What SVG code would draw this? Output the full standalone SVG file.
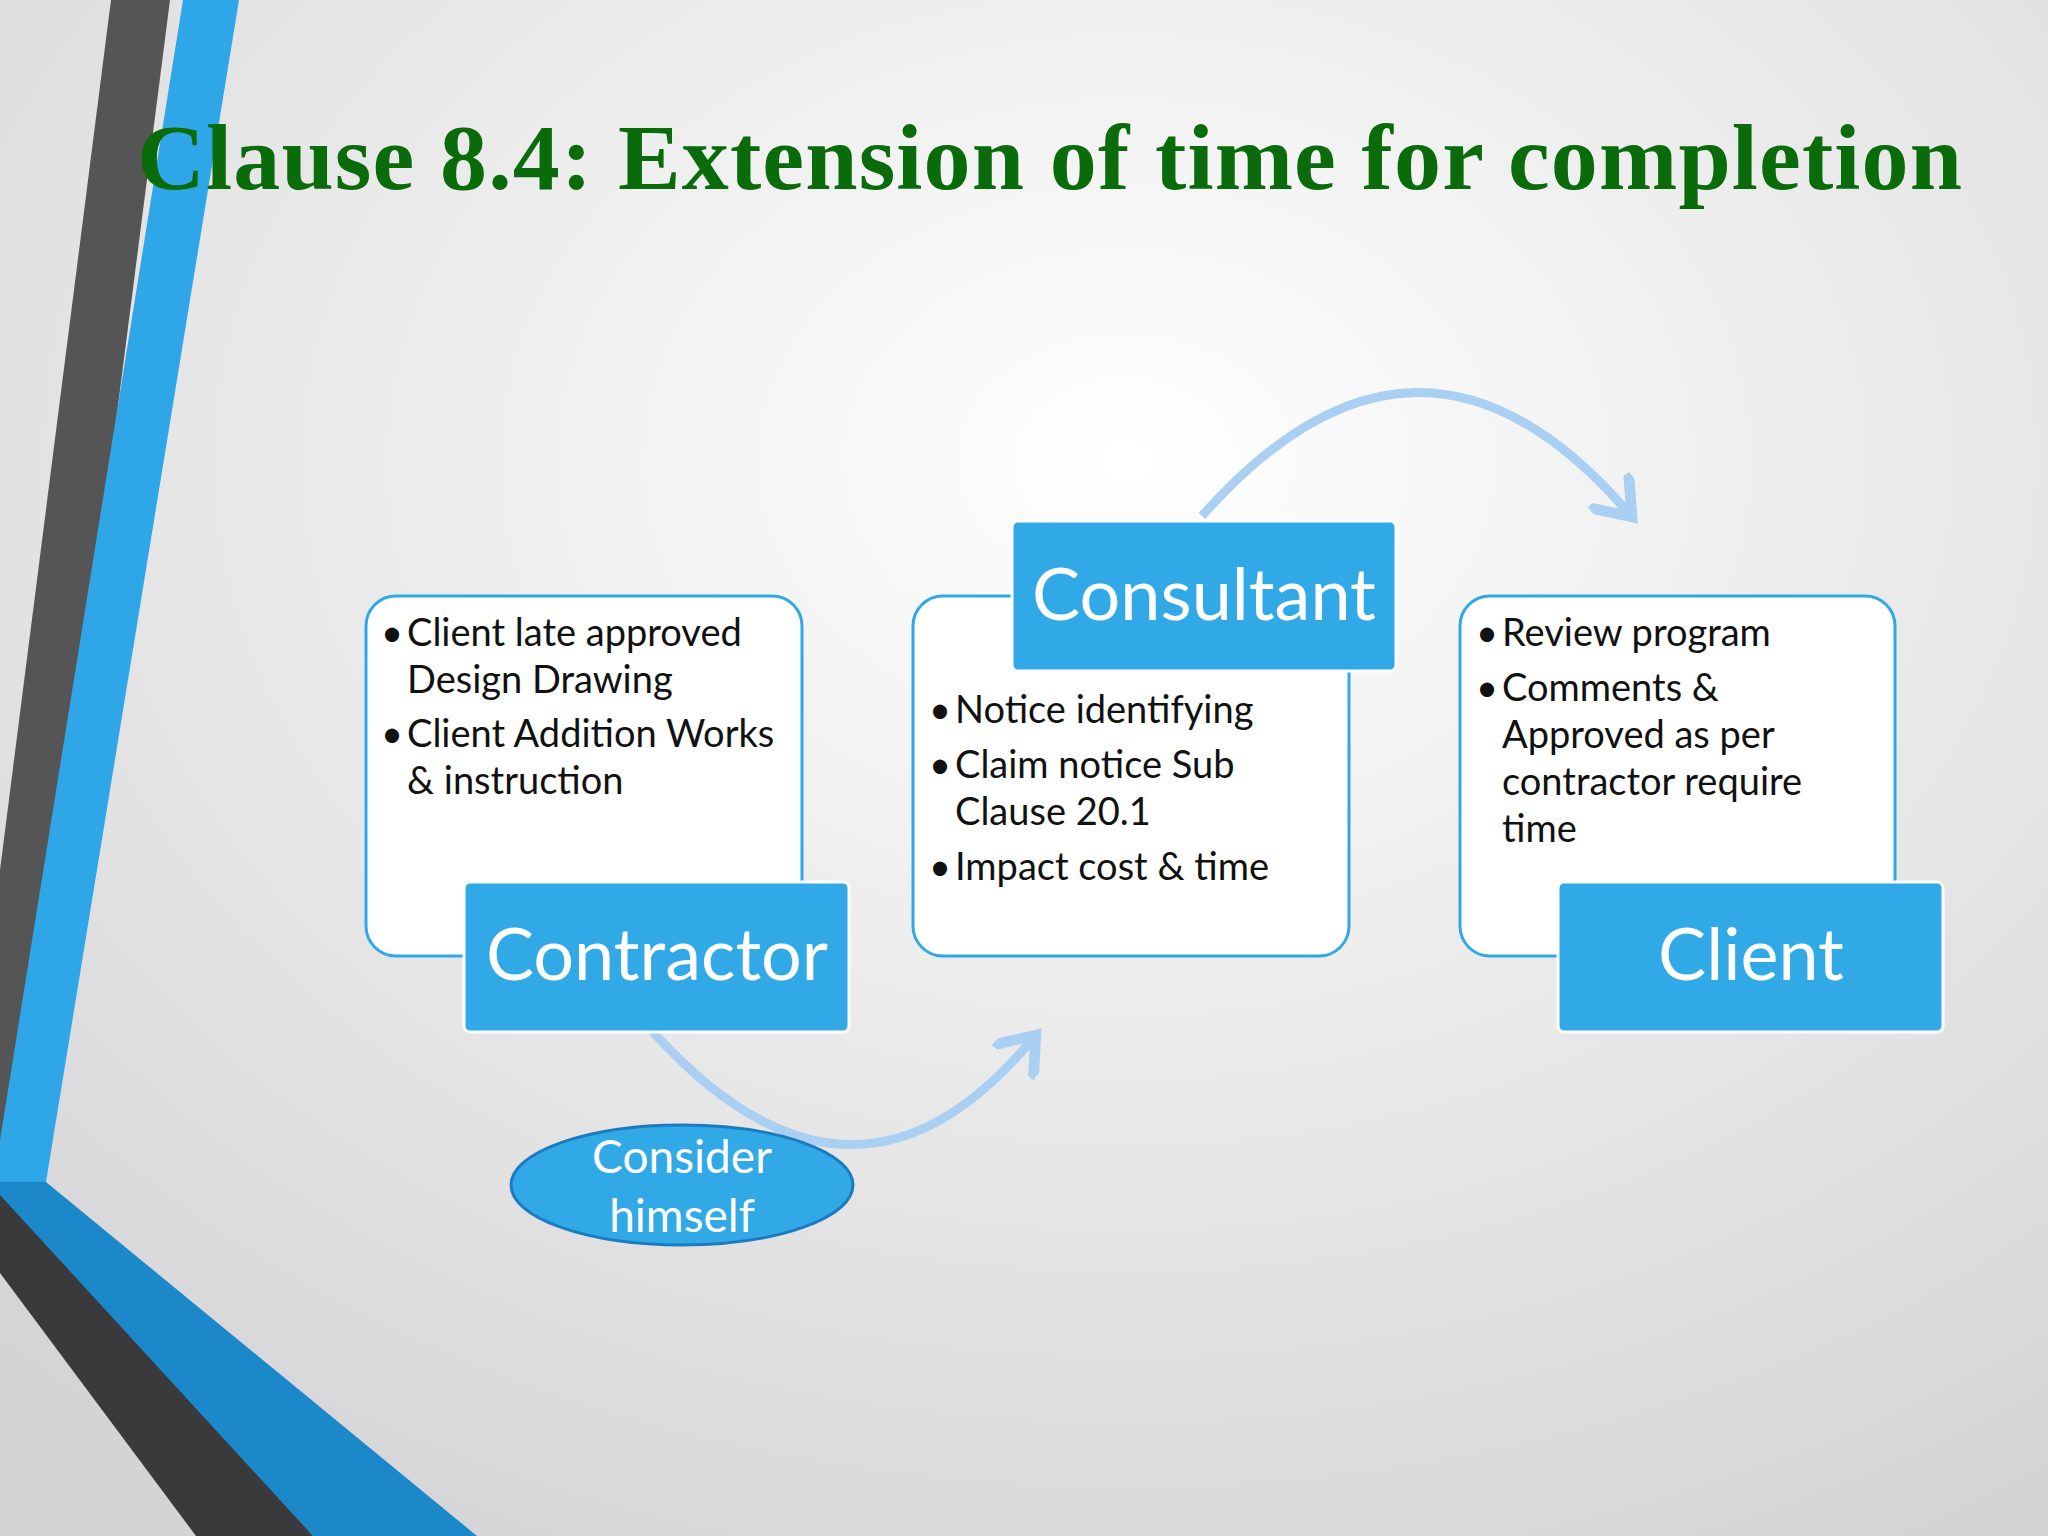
<svg xmlns="http://www.w3.org/2000/svg" width="2048" height="1536" viewBox="0 0 2048 1536">
<defs>
<radialGradient id="bg" cx="0.55" cy="0.3" r="0.8"><stop offset="0" stop-color="#ffffff"/><stop offset="1" stop-color="#d4d4d6"/></radialGradient>
<marker id="ah" markerWidth="6" markerHeight="6" refX="3" refY="3" orient="auto" markerUnits="strokeWidth"><path d="M0,0 L4,3 L0,6" fill="none" stroke="#a9d0f2" stroke-width="1.2"/></marker>
<style>
.outer{fill:#fff;stroke:#30a8e8;stroke-width:3}
.lab{fill:#30a9e6;stroke:#fff;stroke-width:3}
.lt{font-family:Lato,"Open Sans",sans-serif;font-size:72px;fill:#fff;text-anchor:middle}
.bt{font-family:Lato,"Open Sans",sans-serif;font-size:38px;fill:#111}
.arc{fill:none;stroke:#a9d0f2;stroke-width:9;marker-end:url(#ah)}
</style>
</defs>
<rect width="2048" height="1536" fill="url(#bg)"/>
<g id="decor">
<polygon points="111,0 170,0 20,1170 0,1170 0,870" fill="#555"/>
<polygon points="183,0 239,0 46,1182 0,1182 0,1140" fill="#2fa6e8"/>
<polygon points="0,1182 46,1182 477,1536 313,1536 0,1230" fill="#1a88c9"/>
<polygon points="0,1195 0,1273 196,1536 313,1536" fill="#3a3a3d"/>
</g>
<text x="137" y="189" font-family="Liberation Serif,serif" font-weight="bold" font-size="94" fill="#0a6b0a" textLength="1825">Clause 8.4: Extension of time for completion</text>
<g id="connectors">
<path class="arc" d="M653,1032 Q853,1252 1030,1042"/>
<path class="arc" d="M1202,516 Q1418,272 1626,510"/>
</g>
<g id="contractor">
<rect class="outer" x="366" y="596" width="436" height="360" rx="30"/>
<text class="bt" x="381" y="646">•</text><text class="bt" x="407" y="646">Client late approved</text>
<text class="bt" x="407" y="693">Design Drawing</text>
<text class="bt" x="381" y="747">•</text><text class="bt" x="407" y="747">Client Addition Works</text>
<text class="bt" x="407" y="794">&amp; instruction</text>
<rect class="lab" x="464" y="882" width="385" height="150" rx="6"/>
<text class="lt" x="657" y="980">Contractor</text>
</g>
<g id="consultant">
<rect class="outer" x="913" y="596" width="436" height="360" rx="30"/>
<text class="bt" x="929" y="723">•</text><text class="bt" x="955" y="723">Notice identifying</text>
<text class="bt" x="929" y="778">•</text><text class="bt" x="955" y="778">Claim notice Sub</text>
<text class="bt" x="955" y="825">Clause 20.1</text>
<text class="bt" x="929" y="880">•</text><text class="bt" x="955" y="880">Impact cost &amp; time</text>
<rect class="lab" x="1012" y="521" width="384" height="150" rx="6"/>
<text class="lt" x="1204" y="620">Consultant</text>
</g>
<g id="client">
<rect class="outer" x="1460" y="596" width="435" height="360" rx="30"/>
<text class="bt" x="1476" y="646">•</text><text class="bt" x="1502" y="646">Review program</text>
<text class="bt" x="1476" y="701">•</text><text class="bt" x="1502" y="701">Comments &amp;</text>
<text class="bt" x="1502" y="748">Approved as per</text>
<text class="bt" x="1502" y="795">contractor require</text>
<text class="bt" x="1502" y="842">time</text>
<rect class="lab" x="1558" y="882" width="385" height="150" rx="6"/>
<text class="lt" x="1751" y="980">Client</text>
</g>
<g id="consider">
<ellipse cx="682" cy="1185" rx="171" ry="60" fill="#30a9e6" stroke="#1a7bbf" stroke-width="3"/>
<text x="682" y="1173" font-family="Lato,'Open Sans',sans-serif" font-size="46" fill="#fff" text-anchor="middle">Consider</text>
<text x="682" y="1232" font-family="Lato,'Open Sans',sans-serif" font-size="46" fill="#fff" text-anchor="middle">himself</text>
</g>
</svg>
